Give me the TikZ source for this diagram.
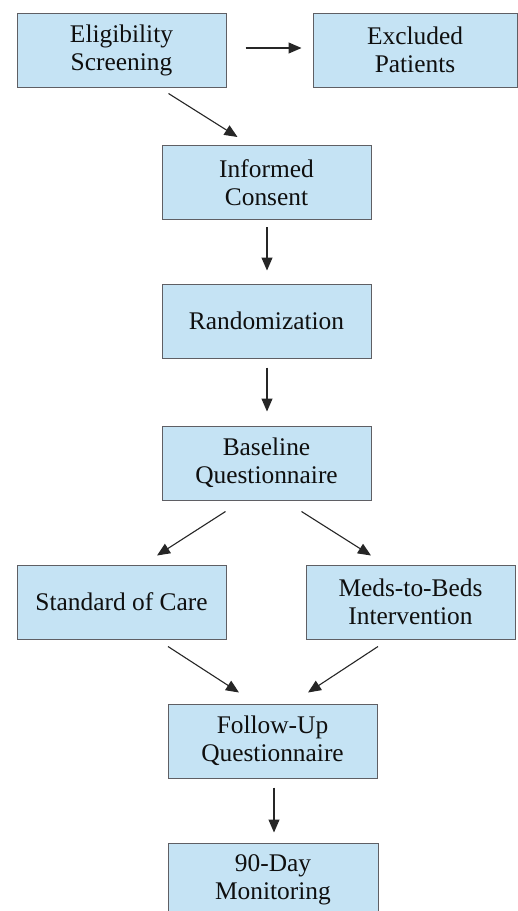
\documentclass[tikz,border=0pt]{standalone}
\usepackage{fontspec}
\setmainfont{Liberation Serif}
\newfontfamily\timesf{Liberation Serif}
\usetikzlibrary{arrows.meta,calc}
\definecolor{boxfill}{RGB}{197,227,244}
\definecolor{boxline}{RGB}{95,95,100}
\definecolor{txt}{RGB}{15,15,15}
\tikzset{
  flowbox/.style={draw=boxline, line width=1pt, fill=boxfill, rectangle,
    minimum height=74pt, inner sep=0pt, align=center, text=txt,
    font=\timesf\fontsize{25.4}{28}\selectfont},
  arr/.style={draw=black!85, line width=1.1pt, -{Triangle[length=13pt,width=11pt]}}
}
\begin{document}
\begin{tikzpicture}[x=1pt,y=-1pt]
\useasboundingbox (0,0) rectangle (518,911);
\clip (0,0) rectangle (518,911);
\fill[white] (0,0) rectangle (518,911);
\node[flowbox, minimum width=209pt] (elig) at (121.5,50) {Eligibility\\Screening};
\node[flowbox, minimum width=204pt] (excl) at (415,50) {Excluded\\Patients};
\node[flowbox, minimum width=209pt] (cons) at (266.5,182.5) {Informed\\Consent};
\node[flowbox, minimum width=209pt] (rand) at (266.5,321) {Randomization};
\node[flowbox, minimum width=209pt] (base) at (266.5,463) {Baseline\\Questionnaire};
\node[flowbox, minimum width=209pt] (soc) at (121.5,602) {Standard of Care};
\node[flowbox, minimum width=209pt] (meds) at (410.5,602) {Meds-to-Beds\\Intervention};
\node[flowbox, minimum width=209pt] (fup) at (272.5,741) {Follow-Up\\Questionnaire};
\node[flowbox, minimum width=210pt] (mon) at (273,880) {90-Day\\Monitoring};

\draw[arr] ($(elig.east)+(19,-2)$) -- ($(excl.west)+(-11,-2)$);
\draw[arr] ($(elig.south east)+(-58,6)$) -- ($(cons.north west)+(76,-8)$);
\draw[arr] ($(cons.south)+(0.5,7)$) -- ($(rand.north)+(0.5,-13)$);
\draw[arr] ($(rand.south)+(0.5,9)$) -- ($(base.north)+(0.5,-14)$);
\draw[arr] ($(base.south west)+(64,11)$) -- ($(soc.north)+(35.5,-9)$);
\draw[arr] ($(base.south east)+(-70,11)$) -- ($(meds.north)+(-39.5,-9)$);
\draw[arr] ($(soc.south)+(46.5,7)$) -- ($(fup.north)+(-33.5,-11)$);
\draw[arr] ($(meds.south)+(-32.5,7)$) -- ($(fup.north)+(35.5,-11)$);
\draw[arr] ($(fup.south)+(1.5,9)$) -- ($(mon.north)+(1,-10)$);
\end{tikzpicture}
\end{document}
